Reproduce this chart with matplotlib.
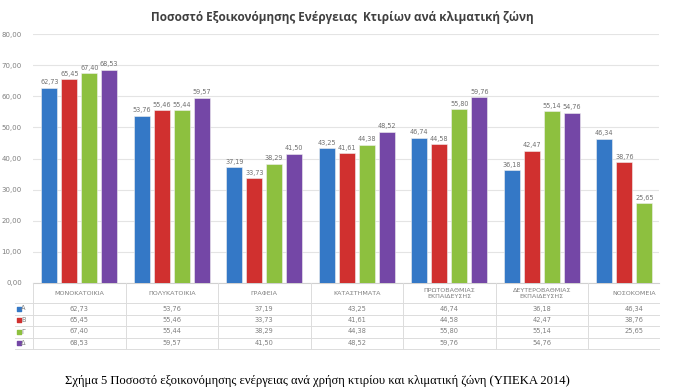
import matplotlib
matplotlib.use("Agg")
import matplotlib.pyplot as plt
import numpy as np

categories = ["ΜΟΝΟΚΑΤΟΙΚΙΑ", "ΠΟΛΥΚΑΤΟΙΚΙΑ", "ΓΡΑΦΕΙΑ", "ΚΑΤΑΣΤΗΜΑΤΑ",
              "ΠΡΩΤΟΒΑΘΜΙΑΣ\nΕΚΠΑΙΔΕΥΣΗΣ", "ΔΕΥΤΕΡΟΒΑΘΜΙΑΣ\nΕΚΠΑΙΔΕΥΣΗΣ", "ΝΟΣΟΚΟΜΕΙΑ"]
zone_a = [62.73, 53.76, 37.19, 43.25, 46.74, 36.18, 46.34]
zone_b = [65.45, 55.46, 33.73, 41.61, 44.58, 42.47, 38.76]
zone_g = [67.40, 55.44, 38.29, 44.38, 55.80, 55.14, 25.65]
zone_d = [68.53, 59.57, 41.50, 48.52, 59.76, 54.76, None]
series_names = ["Α", "Β", "Γ", "Δ"]
colors = ["#3478c6", "#d0302f", "#8dc03f", "#7447a6"]
yticks = [0, 10, 20, 30, 40, 50, 60, 70, 80]
title = "Ποσοστό Εξοικονόμησης Ενέργειας  Κτιρίων ανά κλιματική ζώνη"
caption = "Σχήμα 5 Ποσοστό εξοικονόμησης ενέργειας ανά χρήση κτιρίου και κλιματική ζώνη (ΥΠΕΚΑ 2014)"

series = [zone_a, zone_b, zone_g, zone_d]

def fmt(v):
    return f"{v:.2f}".replace(".", ",")

W, H = 673, 392
fig = plt.figure(figsize=(W / 100, H / 100), dpi=100)
fig.patch.set_facecolor("white")

px_left, px_right, px_top, px_bottom = 33, 659, 34, 283
ax = fig.add_axes([px_left / W, 1 - px_bottom / H, (px_right - px_left) / W, (px_bottom - px_top) / H])
x = np.arange(len(categories))
xmin, xmax = -0.5, -0.5 + (px_right - px_left) / 92.5
ax.set_xlim(xmin, xmax)
ax.set_ylim(0, 80)

bw = 0.173
step = 0.216
offsets = [-1.5 * step, -0.5 * step, 0.5 * step, 1.5 * step]
gray = "#7f7f7f"
for vals, off, col in zip(series, offsets, colors):
    for xi, v in zip(x, vals):
        if v is None:
            continue
        ax.bar(xi + off, v, width=bw, color=col, edgecolor="#f0f0f0", linewidth=0.4, zorder=3)
        ax.text(xi + off, v + 0.8, fmt(v), ha="center", va="bottom", fontsize=4.7,
                color="#707070", zorder=4)

ax.set_yticks(yticks)
ax.set_yticklabels([fmt(t) for t in yticks], fontsize=5, color=gray)
ax.tick_params(axis="y", length=0, pad=8)
ax.set_xticks([])
ax.grid(axis="y", color="#e4e4e4", linewidth=0.8, zorder=0)
for s in ["top", "right", "left"]:
    ax.spines[s].set_visible(False)
ax.spines["bottom"].set_color("#d0d0d0")
ax.spines["bottom"].set_linewidth(0.8)

# data table below the axes
tab_bottom = 351
tax = fig.add_axes([px_left / W, 1 - tab_bottom / H, (px_right - px_left) / W, (tab_bottom - px_bottom) / H])
tax.set_xlim(xmin, xmax)
tax.set_ylim(tab_bottom - px_bottom, 0)
tax.axis("off")
line_c = "#dcdcdc"
row_lines = [20, 31.5, 43, 54.5, 66]
for yl in row_lines:
    tax.plot([xmin - 0.2, xmax], [yl, yl], color=line_c, linewidth=0.7, clip_on=False)
for b in np.arange(len(categories) + 1) - 0.5:
    if b <= xmax:
        tax.plot([b, b], [0, 66], color=line_c, linewidth=0.7, clip_on=False)
for xi, c in zip(x, categories):
    tax.text(xi, 10.5, c, ha="center", va="center", fontsize=4.6, color=gray, linespacing=1.3)
row_y = [25.5, 37, 48.5, 60]
for ry, vals, name, col in zip(row_y, series, series_names, colors):
    for xi, v in zip(x, vals):
        if v is None:
            continue
        tax.text(xi, ry, fmt(v), ha="center", va="center", fontsize=4.8, color=gray)
    tax.scatter([xmin - 0.155], [ry], marker="s", s=8, color=col, clip_on=False)
    tax.text(xmin - 0.125, ry, name, ha="left", va="center", fontsize=4.8, color=gray)

fig.text(342 / W, 1 - 18 / H, title, ha="center", va="center", fontsize=8.5,
         fontweight="bold", color="#404040", family="Open Sans")
fig.text(317 / W, 1 - 381 / H, caption, ha="center", va="center", fontsize=9.1,
         color="black", family="Liberation Serif")

fig.savefig("out.png", dpi=100, facecolor="white")
